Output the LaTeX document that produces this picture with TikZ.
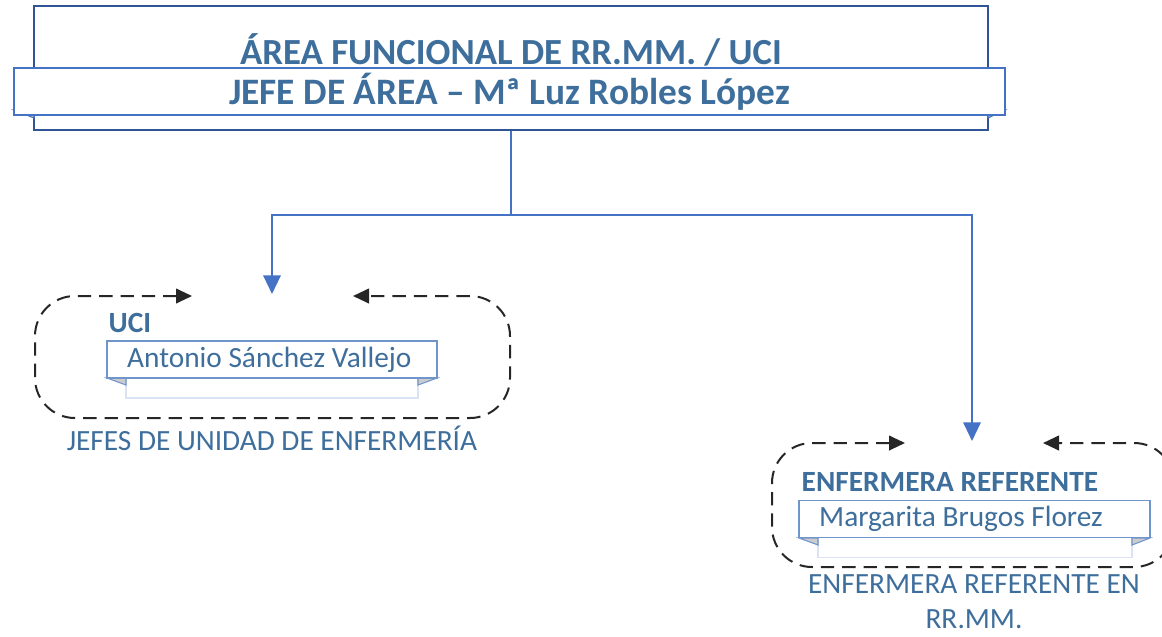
\documentclass[tikz,border=0pt]{standalone}
\usepackage{fontspec}
\setmainfont{Carlito}
\usetikzlibrary{arrows.meta}
\definecolor{txtblue}{HTML}{3E6E9C}
\definecolor{lineblue}{HTML}{4472C4}
\definecolor{darkblue}{HTML}{2F5597}
\definecolor{paleblue}{HTML}{DAE3F3}
\definecolor{boxblue}{HTML}{6F95CC}

\begin{document}
\begin{tikzpicture}[x=0.75pt, y=-0.75pt,
	conn/.style={lineblue, line width=1.6pt},
	grp/.style={black!85, line width=1.5pt, dash pattern=on 10pt off 6pt, rounded corners=30pt,
		{Triangle[length=12pt,width=11pt]}-{Triangle[length=12pt,width=11pt]}},
	namebox/.style={draw=boxblue, line width=1.1pt, fill=white, minimum height=27.75pt},
	nametxt/.style={anchor=west, inner sep=0pt, text=txtblue, font=\fontsize{22}{26}\selectfont},
	shadowbox/.style={draw=paleblue, line width=1pt, fill=white, minimum height=15pt},
	fold/.style={fill=black!20, draw=boxblue, line width=0.8pt},
	lbl/.style={text=txtblue, font=\bfseries\fontsize{22}{26}\selectfont},
	captxt/.style={text=txtblue, font=\fontsize{22}{26}\selectfont, align=center}]
		\useasboundingbox (0,0) rectangle (1162,636);
		% top box
		\node[draw=darkblue, line width=1.6pt, fill=white, minimum width=715.5pt, minimum height=93pt] (area) at (511,68) {};
		\node[text=txtblue, font=\bfseries\fontsize{27.6}{33}\selectfont] (areatitle) at (511,50) {ÁREA FUNCIONAL DE RR.MM. / UCI};
		\filldraw[fold, draw=lineblue] (14,110) -- (34,110) -- (34,118) -- cycle;
		\filldraw[fold, draw=lineblue] (1005,110) -- (988,110) -- (988,118) -- cycle;
		\node[draw=lineblue, line width=1.5pt, fill=white, minimum width=743.25pt, minimum height=27.75pt,
			text=txtblue, font=\bfseries\fontsize{28}{33}\selectfont] (jefe) at (509.5,91.5) {JEFE DE ÁREA – Mª Luz Robles López};
		% connectors
		\coordinate (split) at (511,215);
		\coordinate (ucitop) at (272,294);
		\coordinate (reftop) at (972,441);
		\draw[conn] (area.south) -- (split);
		\draw[conn, -{Triangle[length=14pt,width=13pt]}] (split) -| (ucitop);
		\draw[conn, -{Triangle[length=14pt,width=13pt]}] (split) -| (reftop);
		% UCI
		\draw[grp] (192,296) -- (35,296) -- (35,418) -- (510,418) -- (510,296) -- (353,296);
		\node[lbl, anchor=west] (ucilbl) at (104,323) {UCI};
		\node[shadowbox, minimum width=219pt] (ucishadow) at (272,388) {};
		\filldraw[fold] (107,378) -- (126,378) -- (126,385) -- cycle;
		\filldraw[fold] (437,378) -- (418,378) -- (418,385) -- cycle;
		\node[namebox, minimum width=247.5pt] (ucibox) at (272,359.5) {};
		\node[nametxt] (uciname) at ([xshift=15.5pt]ucibox.west) {Antonio Sánchez Vallejo};
		\node[captxt] (ucicap) at (272,438) {JEFES DE UNIDAD DE ENFERMERÍA};
		% enfermera referente
		\draw[grp] (905,443) -- (772,443) -- (772,567) -- (1174,567) -- (1174,443) -- (1043,443);
		\node[lbl, anchor=west] (reflbl) at (797,482) {ENFERMERA REFERENTE};
		\node[shadowbox, minimum width=235.5pt] (refshadow) at (975,547.5) {};
		\filldraw[fold] (799,538) -- (818,538) -- (818,545) -- cycle;
		\filldraw[fold] (1150,538) -- (1132,538) -- (1132,545) -- cycle;
		\node[namebox, minimum width=263.25pt] (refbox) at (974.5,519) {};
		\node[nametxt] (refname) at ([xshift=15.5pt]refbox.west) {Margarita Brugos Florez};
		\node[captxt] (refcap) at (974,602) {ENFERMERA REFERENTE EN\\RR.MM.};
	\end{tikzpicture}
\end{document}
